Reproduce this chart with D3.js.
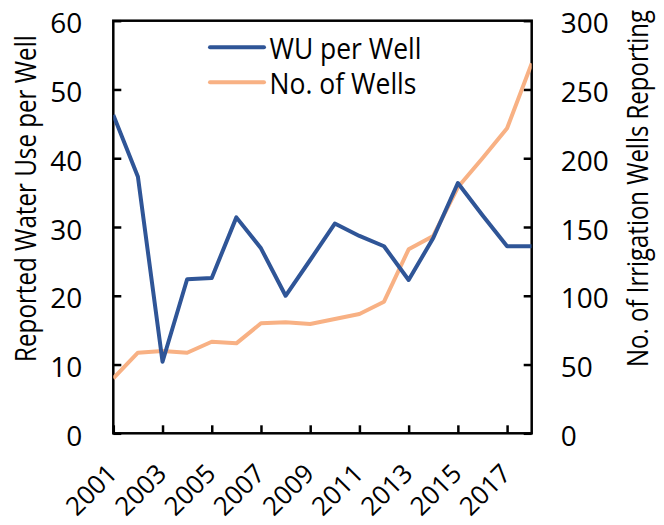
<!DOCTYPE html>
<html>
<head>
<meta charset="utf-8">
<script src="https://cdn.jsdelivr.net/npm/d3@7"></script>
<style>
  body { margin: 0; background: #fff; }
  svg { font-family: "Open Sans", sans-serif; }
</style>
</head>
<body>
<div id="main"></div>
<script>
const WIDTH = 664;
const HEIGHT = 525;
const MARGIN = { top: 20.7, right: 132.3, bottom: 91.7, left: 113.3 };

// data
const years = [2001, 2002, 2003, 2004, 2005, 2006, 2007, 2008, 2009,
  2010, 2011, 2012, 2013, 2014, 2015, 2016, 2017, 2018];
const wuPerWell = [46.3, 37.3, 10.4, 22.4, 22.6, 31.4, 26.9, 20.0, 25.2,
  30.5, 28.7, 27.2, 22.3, 28.4, 36.4, 31.7, 27.2, 27.2];
const numWells = [40, 58.6, 59.8, 58.6, 66.6, 65.4, 80, 80.7, 79.5,
  83.1, 86.8, 95.7, 133.8, 143.5, 178.9, 200, 221.8, 269];
const leftTicks = [0, 10, 20, 30, 40, 50, 60];
const rightTicks = [0, 50, 100, 150, 200, 250, 300];
const xTickYears = [2001, 2003, 2005, 2007, 2009, 2011, 2013, 2015, 2017];

const BLUE = '#2f5597';
const ORANGE = '#f8b184';
const TICK_FONT = 28;
const XTICK_FONT = 26;
const LABEL_FONT = 29;

const svg = d3.select('#main')
  .append('svg')
  .attr('width', WIDTH)
  .attr('height', HEIGHT);

const x = d3.scaleLinear()
  .domain([d3.min(years), d3.max(years)])
  .range([MARGIN.left, WIDTH - MARGIN.right]);
const yLeft = d3.scaleLinear()
  .domain([0, 60])
  .range([HEIGHT - MARGIN.bottom, MARGIN.top]);
const yRight = d3.scaleLinear()
  .domain([0, 300])
  .range([HEIGHT - MARGIN.bottom, MARGIN.top]);

// left axis
const leftAxis = svg.append('g')
  .attr('transform', `translate(${MARGIN.left},0)`)
  .call(d3.axisLeft(yLeft).tickValues(leftTicks).tickSizeInner(-8).tickSizeOuter(0).tickPadding(31));

// right axis
const rightAxis = svg.append('g')
  .attr('transform', `translate(${WIDTH - MARGIN.right},0)`)
  .call(d3.axisRight(yRight).tickValues(rightTicks).tickSizeInner(-8).tickSizeOuter(0).tickPadding(29));

// bottom axis
const bottomAxis = svg.append('g')
  .attr('transform', `translate(0,${HEIGHT - MARGIN.bottom})`)
  .call(d3.axisBottom(x).tickValues(xTickYears).tickFormat(d3.format('d')).tickSizeInner(-8).tickSizeOuter(0));

[leftAxis, rightAxis, bottomAxis].forEach(g => {
  g.select('.domain').remove();
  g.selectAll('line').attr('stroke', '#000').attr('stroke-width', 2.5);
  g.selectAll('text').attr('fill', '#000')
    .attr('font-family', '"Open Sans", sans-serif');
});

leftAxis.selectAll('text').attr('font-size', TICK_FONT).attr('dy', '0.43em');
rightAxis.selectAll('text').attr('font-size', TICK_FONT).attr('dy', '0.43em');

bottomAxis.selectAll('text')
  .attr('font-size', XTICK_FONT)
  .attr('y', 0)
  .attr('dy', 0)
  .attr('transform', 'translate(5,42) rotate(-45)')
  .style('text-anchor', 'end');

// frame
svg.append('rect')
  .attr('x', MARGIN.left)
  .attr('y', MARGIN.top)
  .attr('width', WIDTH - MARGIN.left - MARGIN.right)
  .attr('height', HEIGHT - MARGIN.top - MARGIN.bottom)
  .attr('fill', 'none')
  .attr('stroke', '#000')
  .attr('stroke-width', 2.5);

// lines
svg.append('clipPath').attr('id', 'plot-clip')
  .append('rect')
  .attr('x', MARGIN.left)
  .attr('y', MARGIN.top)
  .attr('width', WIDTH - MARGIN.left - MARGIN.right)
  .attr('height', HEIGHT - MARGIN.top - MARGIN.bottom);

const lineLeft = d3.line().x((d, i) => x(years[i])).y(d => yLeft(d));
const lineRight = d3.line().x((d, i) => x(years[i])).y(d => yRight(d));

svg.append('path')
  .datum(numWells)
  .attr('clip-path', 'url(#plot-clip)')
  .attr('d', lineRight)
  .attr('fill', 'none')
  .attr('stroke', ORANGE)
  .attr('stroke-width', 4)
  .attr('stroke-linejoin', 'round');

svg.append('path')
  .datum(wuPerWell)
  .attr('clip-path', 'url(#plot-clip)')
  .attr('d', lineLeft)
  .attr('fill', 'none')
  .attr('stroke', BLUE)
  .attr('stroke-width', 4)
  .attr('stroke-linejoin', 'round');

/**
 * The source font is narrower than Open Sans, so squeeze a text
 * along its own direction until it is `len` pixels long.
 */
function squeeze(sel, base, len) {
  sel.each(function () {
    const w = this.getComputedTextLength();
    d3.select(this).attr('transform', `${base} scale(${Math.min(1, len / w)},1)`);
  });
}

// axis titles
svg.append('text')
  .attr('text-anchor', 'middle')
  .attr('font-size', LABEL_FONT)
  .text('Reported Water Use per Well')
  .call(squeeze, 'translate(36,198.5) rotate(-90)', 327);

svg.append('text')
  .attr('text-anchor', 'middle')
  .attr('font-size', LABEL_FONT)
  .text('No. of Irrigation Wells Reporting')
  .call(squeeze, 'translate(648,188.5) rotate(-90)', 357);

// legend
const legend = [
  { label: 'WU per Well', color: BLUE, y: 47.3, len: 152 },
  { label: 'No. of Wells', color: ORANGE, y: 82.3, len: 147 }
];
const lg = svg.append('g').selectAll('g').data(legend).join('g');
lg.append('line')
  .attr('x1', 210).attr('x2', 264)
  .attr('y1', d => d.y).attr('y2', d => d.y)
  .attr('stroke', d => d.color)
  .attr('stroke-width', 4)
  .attr('stroke-linecap', 'round');
lg.append('text')
  .attr('font-size', LABEL_FONT)
  .text(d => d.label)
  .each(function (d) {
    d3.select(this).call(squeeze, `translate(269.5,${d.y + 11.5})`, d.len);
  });
</script>
</body>
</html>
